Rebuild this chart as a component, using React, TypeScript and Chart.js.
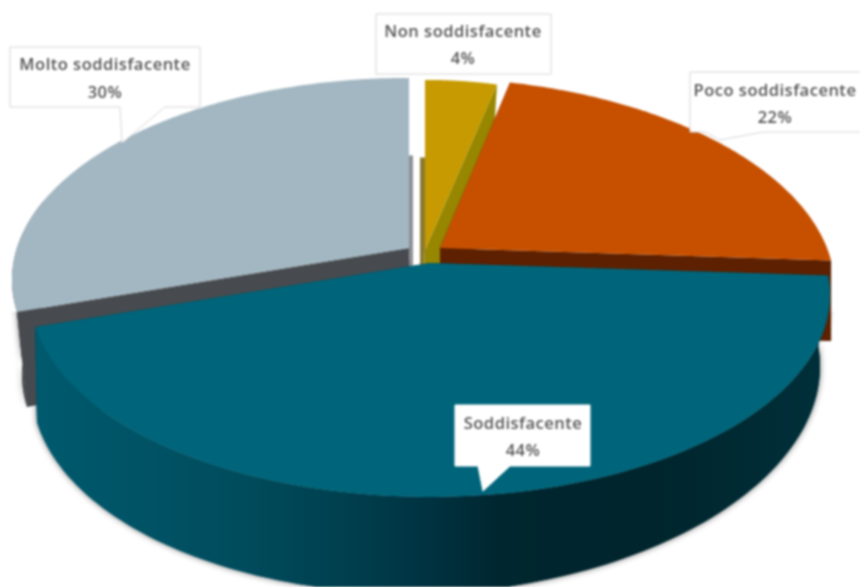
import React, { useEffect, useRef } from "react";
import { Chart, registerables } from "chart.js";

Chart.register(...registerables);

const categories = ["Non soddisfacente", "Poco soddisfacente", "Soddisfacente", "Molto soddisfacente"];
const shares = [4, 22, 44, 30];
const sliceColors = ["#C69A00", "#C65000", "#00657A", "#A3B7C2"];
const sideColors = ["#968600", "#5D2000", "#00303C", "#474B4F"];

const RY = 197;
const TILT = 0.158;
const DEPTH = 86;

// Where each exploded slice sits in the tilted pie.
// wall: the share of the slice's arc whose outer wall can be seen.
// squared: the radial edge whose wall only shows below the back rim, with its colour.
const sliceGeometry = [
  { ox: 425, oy: 250, rx: 334, sx: 0, wx: -5, scale: 1, scaleR: 1, slope: 0, wall: 0, squared: "start", edge: "#8A7A30" },
  { ox: 440, oy: 248, rx: 387, sx: 16, wx: 0, scale: 1, scaleR: 1, slope: 0, wall: 0, squared: "", edge: "" },
  { ox: 430, oy: 263, rx: 395, sx: 0, wx: 0, scale: 0.995, scaleR: 0.975, slope: 10, wall: 1, squared: "", edge: "" },
  { ox: 409, oy: 248, rx: 392, sx: 0, wx: 4, scale: 0.985, scaleR: 1, slope: 0, wall: 0.3, squared: "end", edge: "#8C9095" },
];

const drawOrder = [3, 0, 1, 2];
const wallShadowed = [3, 2];

// Callout boxes: rectangle, tail polygon (base start, tip, base end) and text lines' centre.
const callouts = [
  { box: [376, 14, 175, 60], tail: null, cx: 463, y1: 32, y2: 59, border: "#D6D6D6" },
  { box: [690, 72, 180, 60], tail: [[705, 132], [720, 140], [763, 132]], cx: 775, y1: 91, y2: 118, border: "#D6D6D6" },
  { box: [455, 405, 135, 61], tail: [[478, 466], [483, 491], [510, 466]], cx: 523, y1: 424, y2: 451, border: "#FFFFFF" },
  { box: [10, 47, 190, 60], tail: [[120, 107], [122, 143], [165, 107]], cx: 105, y1: 65, y2: 93, border: "#D6D6D6" },
];

const project = (g: any, a: number, r: number, bottom: boolean) => {
  const x = r * Math.cos(a);
  const y = r * Math.sin(a);
  const w = 1 - TILT * y;
  let X = g.ox + (g.rx * x + g.sx * y) / w;
  let Y = g.oy + (RY * y) / w;
  if (bottom) {
    X = g.ox + (X - g.ox) * (x > 0 ? g.scaleR : g.scale) + g.wx;
    Y += (DEPTH - 6 * x - g.slope * Math.max(0, x)) / Math.pow(w, 0.7);
  }
  return [X, Y];
};

const rim = (g: any, a0: number, a1: number, bottom: boolean) => {
  const pts: number[][] = [];
  const n = 120;
  for (let i = 0; i <= n; i++) pts.push(project(g, a0 + ((a1 - a0) * i) / n, 1, bottom));
  return pts;
};

const fillPoly = (ctx: CanvasRenderingContext2D, pts: number[][], fill: any) => {
  ctx.beginPath();
  pts.forEach((p, i) => (i ? ctx.lineTo(p[0], p[1]) : ctx.moveTo(p[0], p[1])));
  ctx.closePath();
  ctx.fillStyle = fill;
  ctx.fill();
};

const wallFill = (ctx: CanvasRenderingContext2D, i: number) => {
  if (i !== 2) return sideColors[i];
  const g = ctx.createLinearGradient(30, 0, 830, 0);
  g.addColorStop(0, "#005A6E");
  g.addColorStop(0.25, "#004D5E");
  g.addColorStop(0.38, "#004150");
  g.addColorStop(0.5, "#003240");
  g.addColorStop(0.59, "#00262F");
  g.addColorStop(0.78, "#00252D");
  g.addColorStop(1, "#00303A");
  return g;
};

const pie3d = {
  id: "pie3d",
  beforeDatasetsDraw(chart: any) {
    const ctx: CanvasRenderingContext2D = chart.ctx;
    const arcs = chart.getDatasetMeta(0).data;
    const outer = (i: number) => {
      const g = sliceGeometry[i];
      const a = arcs[i];
      const end = a.startAngle + (a.endAngle - a.startAngle) * g.wall;
      return [...rim(g, a.startAngle, end, false), ...rim(g, a.startAngle, end, true).reverse()];
    };
    ctx.save();
    ctx.save();
    ctx.beginPath();
    ctx.rect(0, 312, 860, 275);
    ctx.clip();
    wallShadowed.forEach((i) => {
      ctx.save();
      ctx.shadowColor = "rgba(0,0,0,0.55)";
      ctx.shadowBlur = 6;
      fillPoly(ctx, outer(i), wallFill(ctx, i));
      ctx.restore();
    });
    ctx.restore();
    drawOrder.forEach((i) => {
      const g = sliceGeometry[i];
      const a = arcs[i];
      const edges: [number, string][] = [
        [a.startAngle, "start"],
        [a.endAngle, "end"],
      ];
      edges.forEach(([ang, name]) => {
        const rimTop = project(g, ang, 1, false);
        const rimBottom = project(g, ang, 1, true);
        const squared = g.squared === name;
        fillPoly(
          ctx,
          [
            project(g, ang, 0, false),
            squared ? [rimTop[0], rimBottom[1]] : rimTop,
            rimBottom,
            project(g, ang, 0, true),
          ],
          squared ? g.edge : sideColors[i]
        );
      });
      if (g.wall > 0) fillPoly(ctx, outer(i), wallFill(ctx, i));
      fillPoly(ctx, [project(g, 0, 0, false), ...rim(g, a.startAngle, a.endAngle, false)], a.options.backgroundColor);
    });
    ctx.restore();
    return false;
  },
  afterDraw(chart: any) {
    const ctx: any = chart.ctx;
    const labels = chart.data.labels;
    const values = chart.data.datasets[0].data;
    ctx.save();
    callouts.forEach((c, i) => {
      const [x, y, w, h] = c.box;
      ctx.beginPath();
      ctx.moveTo(x, y);
      ctx.lineTo(x + w, y);
      ctx.lineTo(x + w, y + h);
      if (c.tail) c.tail.slice().reverse().forEach((p) => ctx.lineTo(p[0], p[1]));
      ctx.lineTo(x, y + h);
      ctx.closePath();
      ctx.fillStyle = "#FFFFFF";
      ctx.fill();
      ctx.strokeStyle = c.border;
      ctx.lineWidth = 1;
      ctx.stroke();
      ctx.fillStyle = "#555555";
      ctx.textAlign = "center";
      ctx.textBaseline = "middle";
      ctx.font = "600 16.5px 'Open Sans'";
      ctx.letterSpacing = "0.5px";
      ctx.fillText(labels[i], c.cx, c.y1);
      ctx.fillText(`${values[i]}%`, c.cx, c.y2);
    });
    ctx.restore();
  },
};

export default function App() {
  const ref = useRef<HTMLCanvasElement>(null);
  useEffect(() => {
    const chart = new Chart(ref.current as HTMLCanvasElement, {
      type: "pie",
      data: {
        labels: categories,
        datasets: [{ data: shares, backgroundColor: sliceColors, borderWidth: 0 }],
      },
      options: {
        responsive: false,
        animation: false,
        plugins: { legend: { display: false }, tooltip: { enabled: false } },
      },
      plugins: [pie3d],
    } as any);
    return () => chart.destroy();
  }, []);
  return (
    <div style={{ position: "fixed", left: 0, top: 0, width: 860, height: 587, background: "#fff", overflow: "hidden" }}>
      <canvas ref={ref} width={860} height={587} style={{ display: "block", filter: "blur(0.8px)" }} />
    </div>
  );
}
